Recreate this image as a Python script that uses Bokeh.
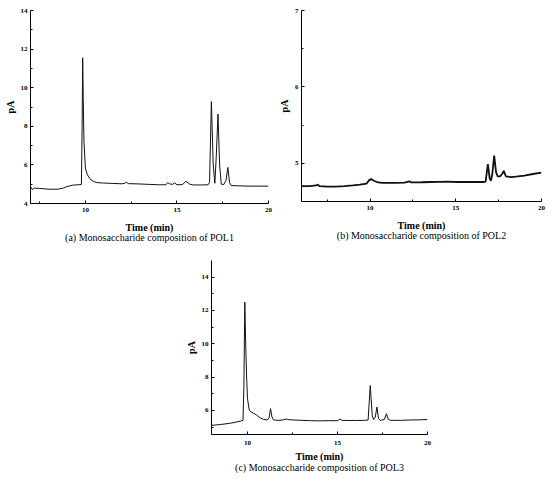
from bokeh.plotting import figure
from bokeh.models import Range1d, FixedTicker, Title, Spacer
from bokeh.layouts import row, column
from bokeh.embed import file_html
from bokeh.resources import INLINE

# ---------------- data ----------------
tA = [7.0, 7.1, 7.2, 7.5, 8.0, 8.5, 8.8, 9.0, 9.3, 9.6, 9.78, 9.82, 9.85, 9.88, 9.92,
      10.0, 10.1, 10.28, 10.45, 10.64, 11.0, 11.5, 12.0, 12.15, 12.24, 12.35, 13.0, 13.5,
      14.0, 14.4, 14.49, 14.6, 14.75, 14.87, 15.0, 15.3, 15.49, 15.7, 15.9, 16.3, 16.7,
      16.78, 16.88, 16.98, 17.07, 17.15, 17.24, 17.33, 17.42, 17.55, 17.68, 17.78, 17.87,
      17.96, 18.5, 19.0, 19.5, 20.0]
vA = [4.88, 4.72, 4.8, 4.78, 4.74, 4.74, 4.8, 4.88, 4.95, 4.97, 4.99, 8.0, 11.55, 9.5, 7.2,
      5.83, 5.5, 5.24, 5.14, 5.08, 5.06, 5.04, 5.02, 5.05, 5.1, 5.03, 5.01, 4.99,
      4.97, 4.97, 5.08, 5.02, 4.99, 5.07, 4.97, 4.98, 5.15, 5.0, 4.96, 4.96, 4.97,
      5.1, 9.28, 6.0, 5.05, 6.5, 8.63, 6.0, 5.0, 4.98, 5.2, 5.87, 5.1,
      4.93, 4.91, 4.9, 4.9, 4.9]

tB = [6.0, 6.5, 6.85, 6.95, 7.05, 7.5, 8.0, 8.5, 9.0, 9.4, 9.8, 9.95, 10.06, 10.2, 10.4,
      10.7, 11.0, 11.5, 12.0, 12.3, 12.4, 13.0, 13.5, 14.0, 14.5, 15.0, 15.5, 15.8, 16.0,
      16.6, 16.74, 16.87, 16.98, 17.05, 17.13, 17.24, 17.35, 17.45, 17.58, 17.7, 17.8,
      17.92, 18.2, 18.5, 19.0, 19.5, 20.0]
vB = [4.70, 4.70, 4.71, 4.72, 4.70, 4.695, 4.695, 4.70, 4.71, 4.72, 4.735, 4.78, 4.795,
      4.775, 4.755, 4.745, 4.745, 4.745, 4.748, 4.765, 4.75, 4.752, 4.755, 4.758, 4.76,
      4.755, 4.755, 4.755, 4.755, 4.755, 4.76, 4.99, 4.8, 4.77, 4.86, 5.10, 4.88, 4.83,
      4.83, 4.86, 4.90, 4.83, 4.82, 4.825, 4.84, 4.86, 4.878]

tC = [8.0, 8.5, 9.0, 9.3, 9.6, 9.75, 9.8, 9.85, 9.9, 9.95, 10.0, 10.1, 10.2, 10.35, 10.5,
      10.7, 10.9, 11.1, 11.2, 11.28, 11.36, 11.45, 11.7, 12.0, 12.15, 12.3, 12.6, 13.0,
      13.5, 14.0, 14.5, 15.0, 15.15, 15.25, 15.6, 16.0, 16.5, 16.7, 16.82, 16.93, 17.0,
      17.1, 17.19, 17.28, 17.38, 17.6, 17.72, 17.82, 17.95, 18.5, 19.0, 19.5, 20.0]
vC = [5.10, 5.15, 5.22, 5.28, 5.35, 5.40, 7.5, 12.5, 10.0, 8.0, 6.7, 6.0, 5.9, 5.82, 5.72,
      5.55, 5.45, 5.42, 5.55, 6.1, 5.6, 5.42, 5.40, 5.43, 5.48, 5.44, 5.42, 5.40,
      5.38, 5.37, 5.38, 5.38, 5.48, 5.40, 5.39, 5.39, 5.40, 5.42, 7.49, 5.7, 5.45,
      5.6, 6.2, 5.5, 5.40, 5.45, 5.8, 5.45, 5.40, 5.40, 5.42, 5.43, 5.45]

x_major = [10, 15, 20]
x_minor = [7.5, 12.5, 17.5]
yA_major = [4, 6, 8, 10, 12, 14]
yA_minor = [5, 7, 9, 11, 13]
yB_major = [5, 6, 7]
yB_minor = [5.5, 6.5]
yC_major = [6, 8, 10, 12, 14]
yC_minor = [5, 7, 9, 11, 13]

x_label = "Time (min)"
y_label = "pA"
captions = ["(a) Monosaccharide composition of POL1",
            "(b) Monosaccharide composition of POL2",
            "(c) Monosaccharide composition of POL3"]

SERIF = "Liberation Serif"


def make_fig(t, v, xr, yr, ymaj, ymin, caption, fw, fh, bl, br, bt, bb, lw,
             tick_so, lab_so, cap_so):
    p = figure(title=None, frame_width=fw, frame_height=fh,
               min_border_left=bl, min_border_right=br,
               min_border_top=bt, min_border_bottom=bb,
               x_range=Range1d(*xr), y_range=Range1d(*yr),
               output_backend="svg", toolbar_location=None)
    p.line(t, v, line_color="#111111", line_width=lw)
    p.grid.visible = False
    p.outline_line_color = None
    p.background_fill_color = "white"
    p.border_fill_color = "white"
    p.xaxis.ticker = FixedTicker(ticks=x_major, minor_ticks=[m for m in x_minor if xr[0] < m < xr[1]])
    p.yaxis.ticker = FixedTicker(ticks=ymaj, minor_ticks=ymin)
    for ax in (p.xaxis[0], p.yaxis[0]):
        ax.axis_line_color = "black"
        ax.axis_line_width = 1
        ax.major_tick_in = 3
        ax.major_tick_out = 0
        ax.minor_tick_in = 2
        ax.minor_tick_out = 0
        ax.major_tick_line_color = "black"
        ax.minor_tick_line_color = "black"
        ax.major_label_text_font = SERIF
        ax.major_label_text_font_style = "bold"
        ax.major_label_text_font_size = "7px"
        ax.major_label_text_color = "black"
        ax.axis_label_text_font = SERIF
        ax.axis_label_text_font_style = "bold"
        ax.axis_label_text_font_size = "10px"
        ax.axis_label_text_color = "black"
    p.xaxis.axis_label = x_label
    p.yaxis.axis_label = y_label
    p.xaxis.major_label_standoff = tick_so
    p.xaxis.axis_label_standoff = lab_so
    p.yaxis.major_label_standoff = 3
    p.yaxis.axis_label_standoff = 2
    p.add_layout(Title(text=caption, align="center", text_font=SERIF,
                       text_font_size="10px", text_font_style="normal",
                       text_color="black", standoff=cap_so), "below")
    return p


fa = make_fig(tA, vA, (7, 20), (4, 14), yA_major, yA_minor, captions[0],
              238, 193, 30, 7, 9, 51, 1.0, 4, 7, -12)
fb = make_fig(tB, vB, (6, 20), (4.5, 7), yB_major, yB_minor, captions[1],
              240, 191, 24, 9, 10, 52, 1.8, 4, 7, -12)
fc = make_fig(tC, vC, (8, 20), (4.55, 15), yC_major, yC_minor, captions[2],
              216, 174, 30, 8, 7, 43, 1.0, 6, 3, -10)

layout = column(row(fa, fb, spacing=0), row(Spacer(width=181, height=10), fc, spacing=0), spacing=0)

open("out.html", "w").write(file_html(layout, INLINE))
